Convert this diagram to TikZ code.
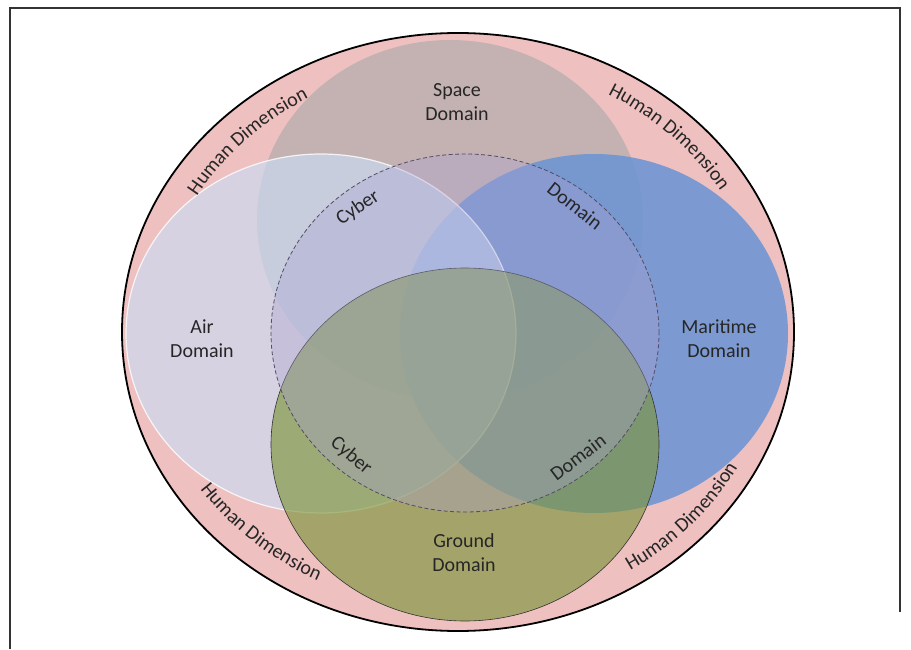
\documentclass[tikz,border=0pt]{standalone}
\usepackage{fontspec}
\setmainfont{Carlito}
\usetikzlibrary{calc,decorations.text}

\begin{document}
\begin{tikzpicture}[x=1pt,y=1pt,
        lbl/.style={align=center,text=black!85,font=\fontsize{20}{24}\selectfont},
        hdtext/.style={decorate,decoration={text along path,text align=center,text color=black!85,
            text={|\fontsize{20}{24}\selectfont|Human Dimension}}}]
        %colores
        \definecolor{rosa}{RGB}{239,192,192}
        \definecolor{spacec}{RGB}{196,178,178}
        \definecolor{seac}{RGB}{105,148,213}
        \definecolor{airc}{RGB}{202,220,243}
        \definecolor{groundc}{RGB}{125,150,60}
        \definecolor{cyberc}{RGB}{170,160,210}
        \definecolor{cyberline}{RGB}{85,75,100}
        \useasboundingbox (0,0) rectangle (911,649);

        % marco
        \draw[line width=1.2pt,black!80] (10,0) -- (10,641) -- (900,641) -- (900,37);

        % dimension humana (fondo)
        \coordinate (O) at (458,317);
        \fill[rosa] (O) ellipse [x radius=336,y radius=299];

        % dominios
        \fill[spacec] (450,429) ellipse [x radius=193,y radius=180];
        \fill[seac,fill opacity=0.85] (594,315.5) ellipse [x radius=194,y radius=179.5];
        \filldraw[fill=airc,fill opacity=0.65,draw=white,draw opacity=0.8,line width=1.2pt]
            (321,315.5) ellipse [x radius=195,y radius=179.5];
        \filldraw[fill=groundc,fill opacity=0.65,draw=black!80,line width=0.6pt]
            (465,204.5) ellipse [x radius=194,y radius=176.5];
        \filldraw[fill=cyberc,fill opacity=0.35,draw=cyberline,line width=0.8pt,dash pattern=on 4pt off 2.5pt]
            (465,316) ellipse [x radius=194,y radius=179];

        % borde exterior
        \draw[line width=1.8pt] (O) ellipse [x radius=336,y radius=299];

        % textos
        \node[lbl] (space lbl) at (457,546.5) {Space\\Domain};
        \node[lbl] (air lbl) at (202,310.5) {Air\\Domain};
        \node[lbl] (sea lbl) at (719,310.5) {Maritime\\Domain};
        \node[lbl] (ground lbl) at (464,96.5) {Ground\\Domain};

        \node[lbl,rotate=34] (cyber tl) at (358,441) {Cyber};
        \node[lbl,rotate=-38] (cyber tr) at (575,443) {Domain};
        \node[lbl,rotate=-40] (cyber bl) at (351,193) {Cyber};
        \node[lbl,rotate=37] (cyber br) at (578,192) {Domain};

        % Human Dimension sobre el borde
        \foreach \a/\b/\rx/\ry in {170.5/100.5/302.4/269.1, 80/10/306.4/272.7,
                                   193/263/312.5/278.1, 283/353/318.5/283.5}
            \path[hdtext] ($(O)+({\rx*cos(\a)},{\ry*sin(\a)})$)
                arc[start angle=\a,end angle=\b,x radius=\rx,y radius=\ry];
    \end{tikzpicture}
\end{document}
